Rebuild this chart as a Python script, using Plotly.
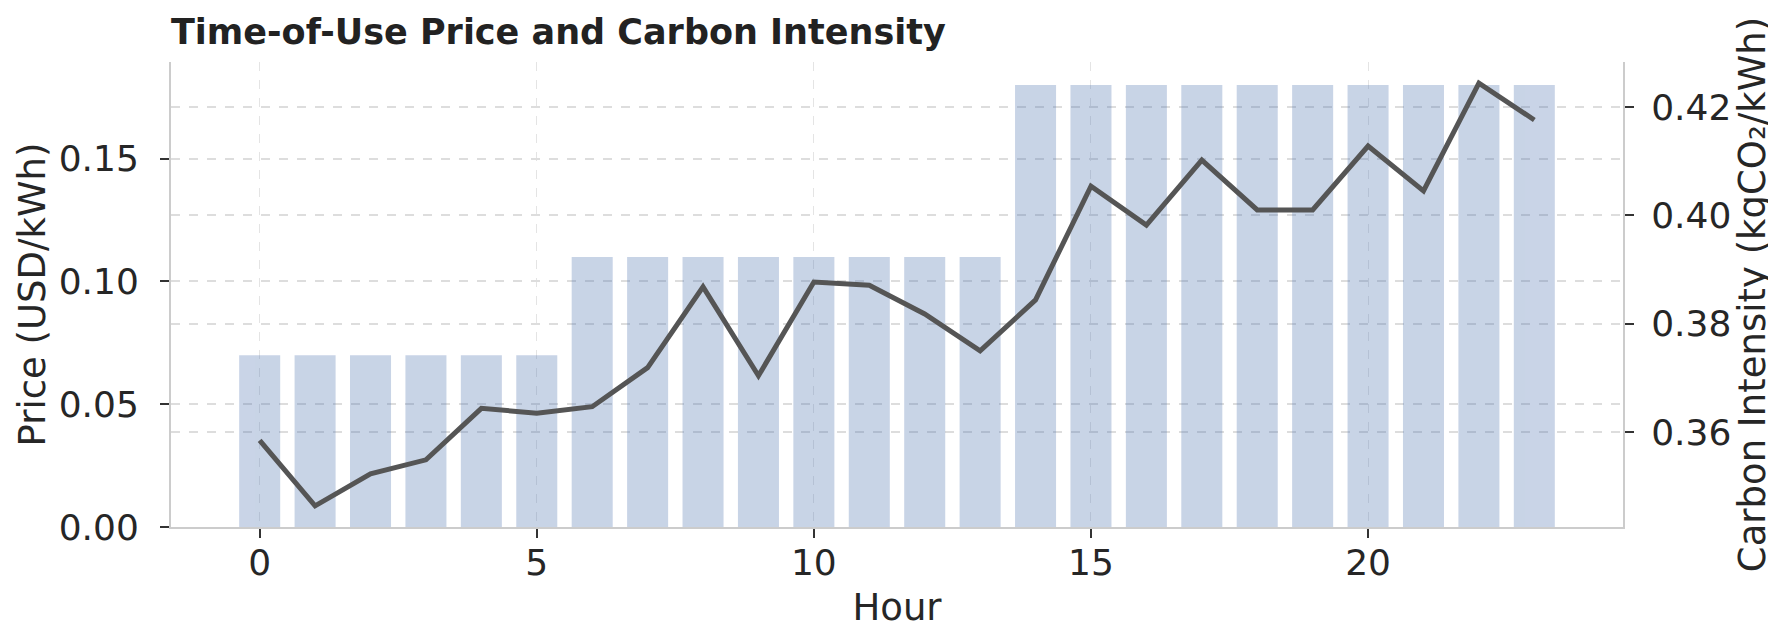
import plotly.graph_objects as go

hours = list(range(24))
price = [0.07]*6 + [0.11]*8 + [0.18]*10
carbon = [0.3585, 0.3464, 0.3523, 0.3549, 0.3644, 0.3635, 0.3647, 0.3719,
          0.3868, 0.3704, 0.3877, 0.3871, 0.3818, 0.3750, 0.3844, 0.4054,
          0.3982, 0.4102, 0.4010, 0.4010, 0.4128, 0.4045, 0.4244, 0.4176]
left_ticks = [0.00, 0.05, 0.10, 0.15]
right_ticks = [0.36, 0.38, 0.40, 0.42]
x_ticks = [0, 5, 10, 15, 20]

FONT = "DejaVu Sans"
fig = go.Figure()
fig.add_trace(go.Bar(x=hours, y=price, width=0.74, marker=dict(color="#4c72b0", line=dict(width=0)),
                     opacity=0.3, yaxis="y", showlegend=False))
fig.add_trace(go.Scatter(x=hours, y=carbon, mode="lines", line=dict(color="#555555", width=5),
                         yaxis="y2", showlegend=False))

grid = dict(showgrid=True, gridcolor="#dddddd", griddash="dash", gridwidth=1.5)
axcommon = dict(ticks="outside", ticklen=9, tickwidth=2, tickcolor="#333333", showline=True,
                linecolor="#cccccc", linewidth=2, zeroline=False, tickfont=dict(size=36))
fig.update_layout(
    width=1776, height=627,
    margin=dict(l=163, r=161, t=54, b=108),
    paper_bgcolor="white", plot_bgcolor="white",
    font=dict(family=FONT, size=36, color="#262626"),
    title=dict(text="<b>Time-of-Use Price and Carbon Intensity</b>", x=163/1776, xanchor="left",
               y=1-24/627, yanchor="middle", font=dict(size=35, color="#222222", family=FONT)),
    xaxis=dict(range=[-1.6, 24.6], tickvals=x_ticks, ticklabelstandoff=-6,
               title=dict(text="Hour", standoff=12, font=dict(size=37)), **axcommon,
               showgrid=True, gridcolor="#e4e4e4", griddash="dash", gridwidth=1.2),
    yaxis=dict(range=[0, 0.1894], tickvals=left_ticks, tickformat=".2f", ticklabelstandoff=14,
               title=dict(text="Price (USD/kWh)", standoff=2, font=dict(size=37)), **axcommon, **grid),
    yaxis2=dict(range=[0.3425, 0.4283], tickvals=right_ticks, tickformat=".2f", overlaying="y",
                side="right", ticklabelstandoff=10,
                title=dict(text="Carbon Intensity (kgCO₂/kWh)", standoff=0, font=dict(size=37)),
                **axcommon, **grid),
)
fig.write_html("out.html")
